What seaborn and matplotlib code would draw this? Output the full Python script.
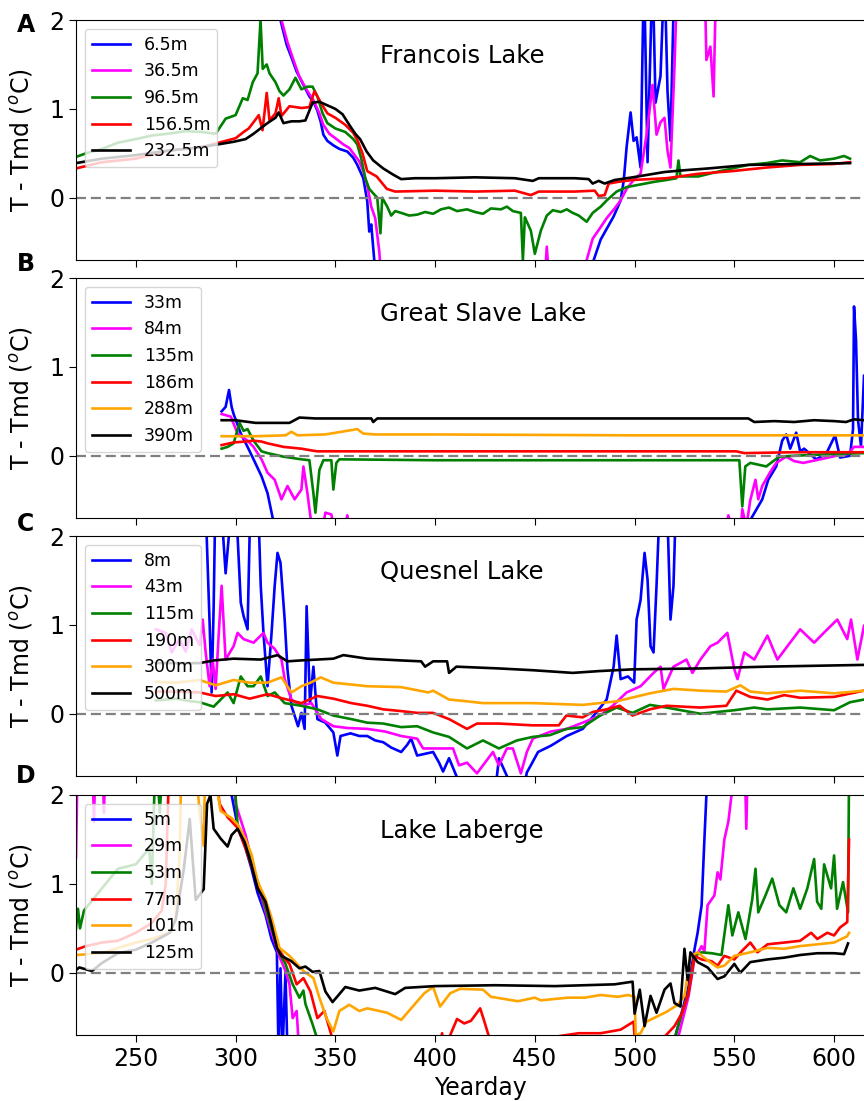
"""
Temperature minus temperature of maximum density (T - Tmd) at several depths
for four lakes, stacked panels sharing the yearday axis.
"""
import matplotlib
matplotlib.use('Agg')
import matplotlib.pyplot as plt
import pandas as pd
import seaborn as sns

# ---------------------------------------------------------------- data
# (yearday, T - Tmd); values outside (-0.7, 2) are off-axis

# A  Francois Lake
FR_6_5 = [(321.5, 2.6), (322.5, 2.0), (325.6, 1.72), (328, 1.58), (330.6, 1.42), (334, 1.27),
          (337, 1.14), (339, 1.08), (341, 0.98), (342.6, 0.86), (344, 0.71), (346, 0.64),
          (349, 0.59), (352, 0.55), (356, 0.52), (359, 0.45), (361, 0.37), (364, 0.22),
          (366, -0.04), (367, -0.38), (368, -0.3), (369.5, -0.7), (371, -0.9), (476, -0.9),
          (478, -0.8), (483, -0.47), (486, -0.35), (489.5, -0.21), (493, -0.03), (494.6, 0.2),
          (496, 0.57), (498, 0.96), (499.5, 0.64), (501, 0.68), (503, 0.34), (504.7, 2.6),
          (506.5, 0.4), (509, 2.6), (510.5, 1.07), (513, 1.37), (515, 2.6), (516.5, 1.2),
          (518, 0.64), (520, 2.6), (525, 3.0), (608, 3.0)]
FR_36_5 = [(322, 2.6), (323, 2.0), (326, 1.75), (329, 1.55), (332, 1.36), (336, 1.2),
           (339, 1.1), (342, 0.95), (344, 0.82), (347, 0.72), (350, 0.67), (354, 0.6),
           (357, 0.56), (360, 0.47), (362, 0.41), (364, 0.3), (366, 0.14), (368, -0.1),
           (370, -0.23), (372, -0.6), (373, -0.9), (455, -0.9), (456, -0.55), (457, -0.9),
           (474, -0.9), (476, -0.7), (479, -0.46), (483, -0.33), (486, -0.23), (490, -0.12),
           (493, -0.03), (496, 0.1), (499.5, 0.2), (503, 0.27), (506, 0.71), (509, 1.27),
           (511, 0.71), (513, 0.85), (515, 0.9), (516.5, 0.53), (518, 0.34), (520, 1.48),
           (521.6, 2.6), (535, 2.6), (536, 1.55), (538, 1.7), (539.6, 1.14), (541, 2.6),
           (546, 2.6), (608, 3.0)]
FR_96_5 = [(220, 0.46), (225, 0.5), (233, 0.55), (241, 0.62), (250, 0.66), (258, 0.7),
           (266, 0.72), (275, 0.75), (283, 0.74), (290, 0.72), (295, 0.89), (300, 0.93),
           (303.6, 1.12), (306, 1.1), (308.6, 1.3), (311, 1.4), (312.5, 2.0), (313.6, 1.45),
           (315.6, 1.5), (317, 1.4), (320, 1.3), (322, 1.2), (324, 1.15), (327, 1.22),
           (330, 1.35), (333, 1.22), (336, 1.25), (338.6, 1.25), (341, 1.14), (343.6, 0.95),
           (346, 0.84), (350, 0.78), (355, 0.74), (359, 0.66), (361, 0.6), (363, 0.44),
           (365, 0.22), (367, 0.1), (369, 0.05), (371, 0.0), (372.6, -0.4), (373.5, 0.0),
           (376, -0.1), (378, -0.2), (380, -0.15), (383, -0.17), (387, -0.2), (391, -0.19),
           (395, -0.16), (399, -0.18), (403, -0.13), (407, -0.11), (411, -0.15), (416, -0.13),
           (420, -0.16), (424, -0.18), (428, -0.12), (433, -0.13), (436, -0.1), (439, -0.15),
           (443, -0.17), (444, -0.7), (445, -0.22), (446, -0.27), (448, -0.37), (450, -0.63),
           (453, -0.37), (456, -0.2), (459, -0.14), (463, -0.16), (466, -0.13), (469, -0.17),
           (472, -0.2), (476, -0.27), (479, -0.17), (483, -0.1), (486, -0.03), (491, 0.07),
           (496, 0.12), (503, 0.15), (510, 0.18), (516, 0.2), (521, 0.22), (522, 0.42),
           (523, 0.24), (532, 0.24), (541, 0.29), (549, 0.33), (557, 0.37), (566, 0.39),
           (574, 0.42), (583, 0.4), (588, 0.47), (593, 0.42), (600, 0.44), (605, 0.47),
           (608, 0.44)]
FR_156_5 = [(220, 0.33), (233, 0.4), (250, 0.44), (266, 0.53), (283, 0.57), (291.6, 0.62),
            (300, 0.67), (304, 0.74), (306.6, 0.78), (310, 0.88), (311.6, 0.93), (313.5, 0.76),
            (315.6, 1.18), (317, 0.87), (320, 0.95), (321.6, 1.12), (323, 0.92), (327, 1.03),
            (333, 1.01), (337, 1.02), (339.5, 1.2), (343, 1.06), (346, 0.95), (350, 0.9),
            (355, 0.82), (359, 0.73), (361, 0.65), (363.6, 0.5), (366, 0.3), (370.7, 0.24),
            (375.8, 0.1), (380, 0.07), (400, 0.08), (420, 0.07), (440, 0.08), (448, 0.03),
            (452, 0.07), (470, 0.07), (480, 0.08), (482, 0.02), (485, 0.03), (487, 0.16),
            (492, 0.18), (499, 0.2), (516, 0.22), (532, 0.27), (549, 0.3), (566, 0.34),
            (583, 0.37), (600, 0.38), (608, 0.4)]
FR_232_5 = [(220, 0.39), (233, 0.44), (250, 0.48), (266, 0.53), (283, 0.57), (291, 0.6),
            (299, 0.63), (305, 0.66), (309, 0.72), (313.6, 0.8), (316.6, 0.85), (320, 0.9),
            (321.6, 0.96), (324, 0.84), (328, 0.86), (332, 0.86), (335, 0.87), (338.6, 1.07),
            (342, 1.08), (346, 1.04), (350, 1.0), (353.6, 0.94), (357, 0.82), (360, 0.72),
            (362.4, 0.66), (365.7, 0.52), (369, 0.42), (374, 0.33), (379, 0.26), (383, 0.21),
            (390, 0.22), (400, 0.22), (420, 0.23), (440, 0.22), (449, 0.19), (452, 0.22),
            (470, 0.22), (477, 0.21), (479, 0.16), (482, 0.19), (485, 0.16), (490, 0.2),
            (499, 0.23), (515, 0.29), (525, 0.31), (537, 0.33), (557, 0.37), (583, 0.38),
            (608, 0.39)]

# B  Great Slave Lake
GS_33 = [(293, 0.5), (295, 0.55), (296.7, 0.74), (298, 0.55), (299, 0.47), (302.6, 0.25),
         (306, 0.1), (309, -0.04), (313, -0.23), (316, -0.42), (318.6, -0.7), (320, -0.9),
         (555, -0.9), (558.6, -0.7), (564, -0.49), (567, -0.27), (571, -0.12), (574, 0.17),
         (576, 0.24), (578, 0.08), (581, 0.26), (583, 0.05), (585, 0.08), (591, -0.04),
         (596, 0.02), (600.5, 0.23), (603, -0.02), (608, 0.0), (609.5, 0.3), (610, 1.68),
         (611, 1.3), (612, 0.4), (613.5, 0.11), (615, 0.9)]
GS_84 = [(293, 0.47), (297.6, 0.44), (301, 0.25), (306, 0.17), (309, 0.1), (313, -0.04),
         (316, -0.19), (319.6, -0.27), (323, -0.49), (326, -0.34), (329.6, -0.49), (333, -0.38),
         (334, -0.12), (336, -0.42), (337.6, -0.7), (340, -0.9), (343, -0.9), (345, -0.64),
         (348, -0.66), (350, -0.9), (354, -0.9), (356, -0.67), (358, -0.9), (545, -0.9),
         (547, -0.67), (550, -0.9), (553, -0.9), (554, -0.6), (556, -0.8), (558, -0.5),
         (560.6, -0.27), (562, -0.49), (564, -0.34), (567.8, -0.19), (571, -0.08), (576, -0.01),
         (580, -0.06), (584.6, -0.08), (593, -0.04), (601, 0.0), (607, 0.02), (610, 0.1),
         (615, 0.1)]
GS_135 = [(293, 0.08), (296, 0.1), (299, 0.14), (302, 0.37), (304, 0.28), (306, 0.3),
          (309, 0.17), (313, 0.05), (316, 0.03), (324, -0.01), (333, -0.04), (337, -0.05),
          (339, -0.42), (340, -0.64), (342, -0.16), (344, -0.05), (348, -0.05), (349, -0.38),
          (350.5, -0.08), (352, -0.04), (400, -0.05), (500, -0.05), (552.5, -0.05),
          (554, -0.57), (555.5, -0.12), (558, -0.08), (566, -0.12), (572.5, -0.01),
          (580, 0.0), (600, 0.02), (615, 0.03)]
GS_186 = [(293, 0.12), (299, 0.15), (305, 0.16), (309, 0.17), (313, 0.16), (316, 0.14),
          (324, 0.1), (333, 0.08), (338, 0.06), (341, 0.05), (400, 0.05), (500, 0.05),
          (551, 0.05), (555, 0.03), (580, 0.04), (615, 0.04)]
GS_288 = [(293, 0.22), (310, 0.22), (325, 0.23), (328, 0.27), (331, 0.23), (345, 0.24),
          (361, 0.3), (364, 0.25), (370, 0.24), (400, 0.24), (500, 0.23), (600, 0.23),
          (615, 0.23)]
GS_390 = [(293, 0.4), (300, 0.4), (310, 0.37), (327, 0.37), (332, 0.43), (340, 0.42),
          (368, 0.42), (369, 0.38), (371, 0.42), (400, 0.42), (500, 0.42), (557, 0.42),
          (560, 0.38), (570, 0.39), (580, 0.38), (590, 0.4), (600, 0.39), (606, 0.38),
          (610, 0.41), (615, 0.4)]

# C  Quesnel Lake
QL_8 = [(284, 2.6), (285.5, 2.0), (287, 1.0), (288, 0.24), (289, 1.2), (290, 2.6), (292, 2.6),
        (295, 1.58), (297, 2.1), (299, 2.6), (301, 2.0), (302.6, 1.25), (304, 1.1), (306, 0.95),
        (307.6, 2.6), (311, 2.6), (312.6, 1.44), (314, 0.9), (316, 0.31), (318, 0.9),
        (319.6, 1.44), (321, 1.81), (322.5, 1.7), (324.6, 1.06), (326, 0.5), (328, 0.09),
        (331.3, -0.14), (333, 0.01), (334.6, -0.17), (335.6, 1.21), (337.3, 0.12), (339, 0.53),
        (341, -0.06), (345, -0.1), (349, -0.21), (351, -0.47), (352.6, -0.25), (357.6, -0.22),
        (362, -0.25), (366, -0.25), (370, -0.3), (374, -0.32), (378, -0.38), (383, -0.43),
        (386, -0.35), (388, -0.28), (391, -0.47), (395, -0.45), (399, -0.43), (402, -0.55),
        (404, -0.65), (407, -0.5), (410.7, -0.7), (413, -0.9), (430, -0.9), (432, -0.5),
        (436, -0.7), (440, -0.9), (444, -0.9), (446, -0.66), (448, -0.58), (451.6, -0.43),
        (458, -0.36), (466, -0.25), (474, -0.17), (481, 0.02), (486, 0.16), (489.5, 0.53),
        (491, 0.88), (493, 0.39), (496.7, 0.42), (499.8, 0.35), (501, 1.06), (503, 1.28),
        (505, 1.81), (506.5, 1.51), (508, 0.76), (509.5, 0.69), (511, 1.44), (513, 2.6),
        (516, 2.6), (518, 1.06), (519.5, 1.44), (521, 2.6), (525, 3.0), (615, 3.0)]
QL_43 = [(260, 0.95), (265, 0.91), (268, 0.69), (271.7, 0.84), (275, 0.7), (278, 0.95),
         (282, 0.77), (283.5, 1.06), (285, 0.69), (287, 0.31), (288.5, 0.61), (290, 0.28),
         (291.5, 0.88), (293, 1.44), (295, 0.61), (299, 0.76), (301, 0.91), (304, 0.84),
         (309, 0.8), (314, 0.91), (316, 0.8), (319.6, 0.73), (323, 0.61), (324.6, 0.39),
         (328, 0.16), (333, 0.09), (338, 0.12), (343, -0.06), (349, -0.14), (356, -0.16),
         (366, -0.17), (375, -0.2), (383, -0.25), (391, -0.28), (394, -0.39), (409, -0.39),
         (412, -0.58), (416, -0.55), (421, -0.67), (424, -0.58), (429, -0.43), (432, -0.58),
         (436, -0.39), (439, -0.39), (443, -0.67), (446, -0.43), (449, -0.28), (458, -0.2),
         (466, -0.17), (474, -0.1), (482.7, -0.02), (489, 0.09), (496, 0.24), (503, 0.31),
         (509.5, 0.46), (513, 0.53), (514.5, 0.28), (519.5, 0.53), (526, 0.61), (529, 0.46),
         (533, 0.61), (538, 0.76), (541.6, 0.8), (546.5, 0.91), (550, 0.5), (551.6, 0.39),
         (555, 0.69), (560, 0.61), (566.6, 0.88), (571.6, 0.61), (576.6, 0.76), (583, 0.95),
         (590, 0.8), (596.6, 0.95), (601.6, 1.06), (606.6, 0.84), (608.5, 1.06), (611.7, 0.61),
         (615, 0.99)]
QL_115 = [(260, 0.15), (270, 0.17), (278, 0.14), (282, 0.13), (289, 0.08), (296, 0.24),
          (299, 0.12), (302.6, 0.42), (306, 0.31), (309, 0.31), (312.6, 0.42), (316, 0.2),
          (319.6, 0.24), (324.6, 0.12), (333, 0.09), (341, 0.05), (349, -0.02), (358, -0.06),
          (366, -0.1), (374, -0.11), (383, -0.15), (391, -0.14), (399, -0.21), (407, -0.26),
          (416, -0.39), (424, -0.3), (432, -0.39), (441, -0.3), (449, -0.26), (457.6, -0.24),
          (466, -0.17), (474, -0.15), (482.7, -0.02), (491, 0.07), (499, 0.01), (507.7, 0.1),
          (516, 0.07), (533, 0.0), (550, 0.04), (560, 0.07), (566.6, 0.05), (583, 0.07),
          (600, 0.04), (608, 0.13), (615, 0.16)]
QL_190 = [(260, 0.25), (270, 0.25), (282, 0.24), (290, 0.2), (299, 0.22), (307, 0.17),
          (316, 0.22), (324, 0.17), (333, 0.12), (341, 0.2), (349, 0.17), (358, 0.12),
          (366, 0.09), (374, 0.05), (383, 0.03), (391, 0.01), (399, 0.01), (407, -0.06),
          (416, -0.17), (421, -0.11), (432, -0.11), (449, -0.13), (462, -0.13), (465.8, -0.02),
          (474, -0.04), (479, 0.02), (486, 0.05), (492.5, 0.09), (499, -0.02), (507.7, 0.05),
          (516, 0.09), (533, 0.07), (546, 0.09), (551, 0.26), (558, 0.19), (566.6, 0.16),
          (575, 0.21), (583, 0.18), (600, 0.19), (615, 0.26)]
QL_300 = [(260, 0.36), (270, 0.35), (282, 0.38), (290, 0.32), (299, 0.38), (307, 0.35),
          (316, 0.35), (323, 0.41), (328, 0.24), (333, 0.31), (337.6, 0.35), (342.6, 0.41),
          (349, 0.35), (366, 0.31), (383, 0.3), (396.6, 0.24), (399, 0.26), (407, 0.16),
          (416, 0.14), (424, 0.12), (449, 0.12), (474, 0.1), (491, 0.14), (507.7, 0.23),
          (519.5, 0.28), (533, 0.26), (546, 0.25), (553, 0.32), (558, 0.25), (566.6, 0.23),
          (583, 0.26), (600, 0.23), (615, 0.26)]
QL_500 = [(260, 0.57), (282, 0.57), (289, 0.6), (299, 0.62), (312.6, 0.61), (321, 0.66),
          (326, 0.59), (332.6, 0.6), (349, 0.62), (354, 0.66), (366, 0.62), (383, 0.6),
          (393, 0.59), (395, 0.53), (399, 0.59), (406, 0.59), (407, 0.46), (410.7, 0.53),
          (432, 0.51), (449, 0.49), (469, 0.46), (482, 0.48), (499, 0.5), (533, 0.51),
          (566, 0.53), (615, 0.55)]

# D  Lake Laberge
LL_5 = [(220, 3.0), (296, 3.0), (298, 2.0), (301, 1.65), (305, 1.4), (308, 1.17), (311, 0.9),
        (315, 0.65), (318, 0.38), (320.7, 0.23), (321.5, -0.9), (322.5, 0.05), (323.5, -0.9),
        (325, 0.0), (326, -0.9), (518, -0.9), (520, -0.75), (523, -0.5), (527, -0.16),
        (530, 0.26), (531.6, 0.45), (533.6, 0.76), (535, 1.5), (536, 2.0), (537, 3.0),
        (608, 3.0)]
LL_29 = [(220, 1.3), (221, 2.6), (228, 2.6), (229, 1.7), (230, 2.6), (233, 2.6), (234, 1.8),
         (235, 2.6), (298, 2.6), (300, 1.9), (305, 1.55), (311, 1.0), (318, 0.46), (322, 0.18),
         (325, 0.02), (327, -0.13), (328.6, -0.51), (330.6, -0.43), (331.5, -0.75), (332, -0.9),
         (519, -0.9), (521.6, -0.75), (527, -0.27), (530, 0.15), (533.6, 0.3), (535, 0.24),
         (536.6, 0.76), (540, 0.87), (541.6, 1.13), (543, 1.05), (545, 1.5), (547, 1.7),
         (548.6, 2.0), (550, 2.6), (555, 2.6), (556, 1.62), (557, 2.6), (608, 3.0)]
LL_53 = [(220, 0.5), (221, 0.72), (222, 0.5), (224, 0.7), (233, 0.95), (241, 1.17), (250, 1.22),
         (256.7, 1.4), (258, 1.0), (260, 2.6), (262, 1.8), (264, 2.6), (298, 2.6), (301, 1.67),
         (305, 1.45), (311, 1.03), (318, 0.5), (322, 0.22), (325, 0.1), (328.6, -0.13),
         (332, -0.28), (334, -0.2), (335, -0.35), (338.6, -0.58), (341, -0.75), (342, -0.9),
         (518, -0.9), (520, -0.75), (523.6, -0.46), (527, -0.23), (530, 0.19), (533.6, 0.23),
         (538.6, 0.22), (543.6, 0.2), (547, 0.76), (549, 0.42), (552, 0.68), (555.6, 0.38),
         (559, 0.83), (560.6, 1.17), (562, 0.68), (565.6, 0.87), (569, 1.06), (572.6, 0.76),
         (576, 0.68), (579.6, 0.95), (583, 0.72), (586.6, 0.95), (590, 1.28), (591.5, 0.8),
         (593.6, 0.72), (595, 1.22), (598.5, 0.95), (600, 1.32), (601.5, 0.72), (604.5, 1.02),
         (607, 0.68), (607.6, 2.6)]
LL_77 = [(220, 0.26), (225, 0.3), (233, 0.34), (241, 0.36), (250, 0.45), (258, 0.56),
         (263, 0.7), (265, 1.0), (267, 2.6), (288, 2.6), (292, 1.9), (296, 1.75), (301, 1.63),
         (305, 1.4), (308, 1.2), (311, 1.0), (315, 0.78), (318, 0.55), (322, 0.25), (325, 0.15),
         (327, 0.1), (330.6, -0.13), (334, -0.06), (337.5, -0.21), (341, -0.51), (344.5, -0.43),
         (348, -0.7), (349, -0.9), (402, -0.9), (403.5, -0.68), (405, -0.9), (407.6, -0.7),
         (411, -0.52), (414.6, -0.57), (418, -0.54), (422.6, -0.4), (425, -0.57), (427, -0.72),
         (428, -0.9), (458, -0.9), (460, -0.72), (466, -0.7), (472, -0.68), (483, -0.68),
         (493, -0.64), (499.5, -0.55), (500.5, -0.9), (514, -0.9), (515, -0.72), (520, -0.6),
         (523.6, -0.46), (527, -0.23), (530, 0.19), (533.6, 0.15), (538.6, 0.13), (541.6, 0.08),
         (545, 0.19), (550, 0.15), (554, 0.25), (558, 0.34), (561.6, 0.23), (566.6, 0.32),
         (575, 0.34), (583, 0.36), (588.5, 0.45), (591.6, 0.38), (596.6, 0.45), (600, 0.42),
         (603, 0.51), (606.6, 0.57), (607.5, 1.5)]
LL_101 = [(220, 0.2), (233, 0.22), (241, 0.28), (250, 0.34), (258, 0.38), (267, 0.45),
          (270, 0.6), (272, 1.35), (273, 2.6), (279, 2.6), (282, 1.8), (284, 1.43), (285, 2.6),
          (289, 2.3), (292.5, 1.82), (298, 1.74), (301, 1.67), (305, 1.5), (308, 1.33),
          (311, 1.03), (315, 0.83), (318, 0.62), (322, 0.28), (327, 0.19), (330, 0.12),
          (334, 0.02), (339, -0.06), (342, -0.28), (345.6, -0.51), (349, -0.66), (352, -0.43),
          (357, -0.36), (362, -0.43), (366, -0.4), (370, -0.42), (376, -0.45), (383, -0.53),
          (388, -0.4), (394.6, -0.23), (399, -0.16), (402.5, -0.38), (407.6, -0.23),
          (412.6, -0.18), (424, -0.19), (428, -0.27), (441.5, -0.32), (450, -0.28),
          (453, -0.31), (466.6, -0.28), (475, -0.28), (483, -0.25), (491.6, -0.27),
          (496.6, -0.25), (500, -0.27), (500.6, -0.7), (503, -0.68), (506, -0.55),
          (509.6, -0.51), (516, -0.44), (521.6, -0.36), (525, -0.26), (528, 0.19),
          (531.6, 0.23), (536.6, 0.14), (541.6, 0.06), (545, 0.08), (550, 0.19), (558, 0.23),
          (566.6, 0.28), (575, 0.27), (583, 0.3), (591.6, 0.32), (600, 0.34), (606.5, 0.41),
          (607.5, 0.45)]
LL_125 = [(220, 0.03), (221.6, 0.06), (228, 0.02), (233, 0.11), (241, 0.22), (250, 0.26),
          (258, 0.34), (267, 0.45), (270, 0.6), (274, 1.16), (277, 1.73), (280, 0.82),
          (284, 0.94), (285, 1.5), (285.7, 1.9), (287.4, 2.0), (289, 1.62), (292.5, 1.51),
          (296, 1.42), (298, 1.55), (301, 1.62), (304.5, 1.47), (308, 1.21), (311, 0.95),
          (315, 0.8), (318, 0.54), (320.7, 0.28), (323, 0.19), (328, 0.13), (332, 0.05),
          (335, 0.07), (338.6, 0.01), (342, 0.02), (345, -0.21), (348.6, -0.33), (352, -0.24),
          (355, -0.16), (362, -0.2), (370, -0.17), (380, -0.24), (385, -0.17), (400, -0.15),
          (430, -0.14), (460, -0.15), (490, -0.13), (499, -0.1), (500, -0.46), (502.6, -0.19),
          (505, -0.6), (508, -0.26), (511, -0.45), (515, -0.19), (518, -0.12), (520, -0.34),
          (523, -0.38), (525, 0.27), (526.6, -0.08), (528, 0.23), (531.6, 0.12), (536.6, 0.06),
          (541.6, -0.07), (545, -0.04), (550, 0.1), (553, 0.0), (558, 0.12), (566.6, 0.15),
          (575, 0.17), (583, 0.2), (591.6, 0.22), (600, 0.22), (605, 0.21), (607, 0.33)]

LAKES = ['Francois Lake', 'Great Slave Lake', 'Quesnel Lake', 'Lake Laberge']
LETTERS = ['A', 'B', 'C', 'D']
DEPTHS = [
    ['6.5m', '36.5m', '96.5m', '156.5m', '232.5m'],
    ['33m', '84m', '135m', '186m', '288m', '390m'],
    ['8m', '43m', '115m', '190m', '300m', '500m'],
    ['5m', '29m', '53m', '77m', '101m', '125m'],
]
SERIES = [
    [FR_6_5, FR_36_5, FR_96_5, FR_156_5, FR_232_5],
    [GS_33, GS_84, GS_135, GS_186, GS_288, GS_390],
    [QL_8, QL_43, QL_115, QL_190, QL_300, QL_500],
    [LL_5, LL_29, LL_53, LL_77, LL_101, LL_125],
]
XTICKS = [250, 300, 350, 400, 450, 500, 550, 600]
YTICKS = [0, 1, 2]

COLORS5 = ['blue', 'magenta', 'green', 'red', 'black']
COLORS6 = ['blue', 'magenta', 'green', 'red', 'orange', 'black']


def panel_frame(labels, series):
    rows = []
    for lab, pts in zip(labels, series):
        for d, v in pts:
            rows.append((lab, d, v))
    return pd.DataFrame(rows, columns=['depth', 'day', 'dT'])


def main():
    W, H = 864, 1101
    fig = plt.figure(figsize=(W / 100, H / 100), dpi=100)

    left, right = 76, 864
    tops = [20, 278, 536, 795]
    ph = 240
    letter_y = [25, 264, 524, 776]

    for i in range(4):
        top = tops[i]
        ax = fig.add_axes([left / W, 1 - (top + ph) / H, (right - left) / W, ph / H])
        df = panel_frame(DEPTHS[i], SERIES[i])
        cols = COLORS5 if len(DEPTHS[i]) == 5 else COLORS6
        sns.lineplot(data=df, x='day', y='dT', hue='depth', hue_order=DEPTHS[i],
                     palette=cols, estimator=None, sort=False, linewidth=1.9, ax=ax)
        ax.axhline(0, color='gray', ls=(0, (4.5, 2.2)), lw=1.6)

        ax.set_xlim(220, 615)
        ax.set_ylim(-0.7, 2)
        ax.set_xticks(XTICKS)
        ax.set_yticks(YTICKS)
        ax.tick_params(labelsize=17, length=5)
        ax.spines['right'].set_visible(False)

        ax.set_ylabel('T - Tmd ($^o$C)', fontsize=17)
        ax.yaxis.set_label_coords(-0.052, 0.5)
        if i < 3:
            ax.tick_params(labelbottom=False)
            ax.set_xlabel('')
        else:
            ax.set_xlabel('Yearday', fontsize=17)
            ax.xaxis.set_label_coords(0.513, -0.17)

        ax.text(0.386, 0.85, LAKES[i], transform=ax.transAxes, ha='left', va='center',
                fontsize=17.5)
        sns.move_legend(ax, 'upper left', title=None, fontsize=12.5, handlelength=2.2,
                        frameon=True)

        fig.text(26 / W, 1 - letter_y[i] / H, LETTERS[i], ha='center', va='center',
                 fontsize=17, fontweight='bold')

    fig.savefig('out.png', dpi=100)
    plt.close(fig)


if __name__ == '__main__':
    main()
